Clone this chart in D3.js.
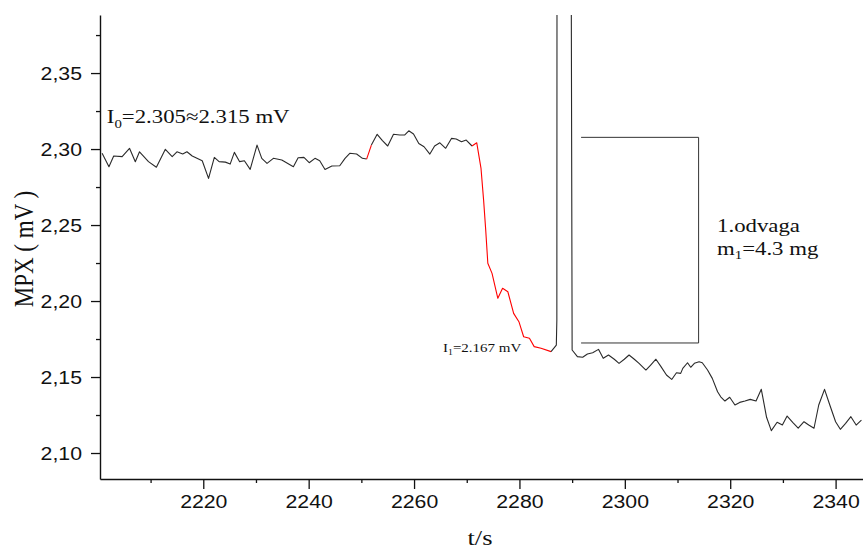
<!DOCTYPE html>
<html><head><meta charset="utf-8">
<script src="https://cdn.jsdelivr.net/npm/d3@7"></script>
<style>body{margin:0;background:#fff}</style>
</head><body><svg id="c" width="863" height="552"></svg>
<script>
// ---- data ----
const times = [
 2200.8,2202.1,2203.0,2204.6,2206.0,2207.1,2207.9,2209.6,2211.1,2212.8,
 2214.1,2215.0,2216.1,2216.9,2217.9,2219.8,2221.0,2222.1,2223.0,2224.2,
 2225.1,2225.9,2226.9,2227.8,2228.9,2230.2,2231.1,2232.1,2233.3,2234.9,
 2237.1,2238.0,2239.1,2240.1,2241.2,2242.1,2243.1,2244.4,2245.9,2246.9,
 2247.8,2249.1,2250.2,2251.0,2251.9,2253.0,2254.0,2255.0,2256.1,2257.3,
 2258.2,2259.0,2259.9,2260.9,2261.9,2263.0,2263.9,2264.9,2266.0,2267.1,
 2268.0,2269.0,2269.9,2271.0,2271.9,2272.7,2273.2,2273.6,2274.0,2274.8,
 2275.9,2276.8,2277.8,2278.9,2279.9,2280.8,2281.9,2282.8,2284.1,2286.0,
 2287.0,2287.1,2287.15,2289.7,2290.0,2291.0,2292.0,2292.9,2293.9,2295.0,
 2295.9,2296.9,2298.0,2298.9,2299.9,2300.8,2301.8,2302.7,2304.0,2304.9,
 2305.9,2306.8,2307.9,2308.9,2309.8,2310.6,2311.0,2311.9,2312.5,2313.2,
 2314.1,2314.7,2315.7,2316.6,2317.6,2318.2,2319.0,2319.9,2320.9,2321.8,
 2322.8,2323.8,2324.9,2325.9,2326.9,2327.8,2328.9,2329.9,2330.8,2331.9,
 2332.9,2334.0,2334.9,2335.9,2336.8,2337.9,2338.9,2340.0,2340.9,2341.9,
 2342.9,2343.9,2344.9
];
const values = [
 2.2972,2.2884,2.2954,2.2950,2.3005,2.2917,2.2982,2.2917,2.2880,2.2998,
 2.2950,2.2982,2.2967,2.2982,2.2954,2.2923,2.2807,2.2945,2.2917,2.2914,
 2.2901,2.2978,2.2917,2.2923,2.2866,2.3026,2.2939,2.2906,2.2939,2.2928,
 2.2884,2.2943,2.2945,2.2910,2.2939,2.2923,2.2866,2.2888,2.2890,2.2939,
 2.2972,2.2967,2.2939,2.2934,2.3026,2.3097,2.3055,2.3020,2.3097,2.3092,
 2.3092,2.3120,2.3099,2.3037,2.3015,2.2967,2.3020,2.3041,2.3005,2.3070,
 2.3066,2.3048,2.3059,2.3020,2.3041,2.2875,2.2664,2.2467,2.2248,2.2182,
 2.2018,2.2084,2.2061,2.1919,2.1864,2.1765,2.1755,2.1700,2.1689,2.1667,
 2.1710,2.1875,2.6000,2.6000,2.1678,2.1634,2.1630,2.1651,2.1660,2.1682,
 2.1623,2.1645,2.1617,2.1590,2.1617,2.1645,2.1617,2.1590,2.1546,2.1579,
 2.1617,2.1572,2.1513,2.1484,2.1528,2.1524,2.1557,2.1594,2.1564,2.1590,
 2.1600,2.1594,2.1546,2.1491,2.1403,2.1370,2.1342,2.1367,2.1316,2.1333,
 2.1342,2.1353,2.1342,2.1419,2.1235,2.1147,2.1202,2.1184,2.1243,2.1200,
 2.1163,2.1206,2.1184,2.1163,2.1316,2.1419,2.1316,2.1206,2.1156,2.1195,
 2.1239,2.1184,2.1217
];
const redRanges = [[2251.0, 2251.9], [2271.0, 2286.0]];
const xMajorTicks = [2220, 2240, 2260, 2280, 2300, 2320, 2340];
const xMinorTicks = [2210, 2230, 2250, 2270, 2290, 2310, 2330];
const yMajorTicks = [2.10, 2.15, 2.20, 2.25, 2.30, 2.35];
const yMinorTicks = [2.125, 2.175, 2.225, 2.275, 2.325, 2.375];
const xDomain = [2200.4, 2345.2];
const yDomain = [2.0829, 2.3882];
const bracketT = [2291.7, 2314.0];
const bracketV = [2.3077, 2.1724];
const xTitle = "t/s";
const yTitle = "MPX ( mV )";

// ---- layout ----
const W = 863, H = 552;
const m = {left: 100, top: 15, right: 0, bottom: 73};
const svg = d3.select("#c");
svg.append("rect").attr("width", W).attr("height", H).attr("fill", "#fff");

const x = d3.scaleLinear().domain(xDomain).range([m.left, W - m.right]);
const y = d3.scaleLinear().domain(yDomain).range([H - m.bottom, m.top]);

const SANS = "'Liberation Sans', Arial, sans-serif";
const SERIF = "'Liberation Serif', 'Times New Roman', serif";
const sxSans = 1.12, sxSerif = 1.2;

svg.append("clipPath").attr("id", "clip").append("rect")
  .attr("x", m.left).attr("y", m.top)
  .attr("width", W - m.right - m.left).attr("height", H - m.bottom - m.top);

const pts = times.map((t, i) => ({t, v: values[i]}));
const isRed = p => redRanges.some(r => p.t >= r[0] - 1e-6 && p.t <= r[1] + 1e-6);
// split into runs of same colour (a segment is red if both its ends are red)
const runs = [];
for (let i = 0; i < pts.length - 1; i++) {
  const red = isRed(pts[i]) && isRed(pts[i + 1]);
  const last = runs[runs.length - 1];
  if (last && last.red === red) last.pts.push(pts[i + 1]);
  else runs.push({red, pts: [pts[i], pts[i + 1]]});
}
const line = d3.line().x(d => x(d.t)).y(d => y(d.v));

const plot = svg.append("g").attr("clip-path", "url(#clip)");
plot.selectAll("path.run").data(runs).join("path").attr("class", "run")
  .attr("d", d => line(d.pts))
  .attr("fill", "none")
  .attr("stroke", d => d.red ? "#ff0000" : "#2a2a2a")
  .attr("stroke-width", 1.1).attr("stroke-linejoin", "round");

// bracket annotation
svg.append("path")
  .attr("d", `M${x(bracketT[0])},${y(bracketV[0])}H${x(bracketT[1])}V${y(bracketV[1])}H${x(bracketT[0])}`)
  .attr("fill", "none").attr("stroke", "#333").attr("stroke-width", 1);

// ---- axes ----
const yFmt = d => d3.format(".2f")(d).replace(".", ",");
function stretchTexts(g, sx) {
  g.selectAll("text").each(function() {
    const t = d3.select(this);
    const tx = +t.attr("x") || 0;
    const ty = +t.attr("y") || 0;
    t.attr("x", 0).attr("y", 0).attr("transform", `translate(${tx},${ty}) scale(${sx},1)`);
  });
}

const gy = svg.append("g").attr("transform", `translate(${m.left},0)`)
  .call(d3.axisLeft(y).tickValues(yMajorTicks).tickFormat(yFmt).tickSize(9).tickPadding(9).tickSizeOuter(0));
svg.append("g").attr("transform", `translate(${m.left},0)`)
  .call(d3.axisLeft(y).tickValues(yMinorTicks).tickFormat("").tickSize(4).tickSizeOuter(0))
  .select(".domain").remove();

const gx = svg.append("g").attr("transform", `translate(0,${H - m.bottom})`)
  .call(d3.axisBottom(x).tickValues(xMajorTicks).tickFormat(d3.format("d")).tickSize(10).tickPadding(6).tickSizeOuter(0));
svg.append("g").attr("transform", `translate(0,${H - m.bottom})`)
  .call(d3.axisBottom(x).tickValues(xMinorTicks).tickFormat("").tickSize(4).tickSizeOuter(0))
  .select(".domain").remove();

[gx, gy].forEach(g => {
  g.selectAll("text").attr("font-family", SANS).attr("font-size", 19).attr("fill", "#111");
  stretchTexts(g, sxSans);
});
svg.selectAll(".domain").attr("stroke", "#111").attr("stroke-width", 1.4);
svg.selectAll(".tick line").attr("stroke", "#111").attr("stroke-width", 1.3);

// axis titles
svg.append("text").attr("transform", `translate(480,545) scale(${sxSerif},1)`)
  .attr("text-anchor", "middle").attr("font-family", SERIF).attr("font-size", 22)
  .attr("fill", "#111").text(xTitle);
svg.append("text").attr("transform", `translate(33,249) scale(${sxSerif},1) rotate(-90)`)
  .attr("text-anchor", "middle").attr("font-family", SERIF).attr("font-size", 23)
  .attr("fill", "#111").text(yTitle);

// text annotations
function subText(tx, ty, size, parts) {
  const t = svg.append("text").attr("transform", `translate(${tx},${ty}) scale(${sxSerif},1)`)
    .attr("font-family", SERIF).attr("font-size", size).attr("fill", "#111");
  parts.forEach(p => {
    const s = t.append("tspan").text(p.s);
    if (p.sub) s.attr("font-size", size * 0.65).attr("dy", size * 0.22);
    else if (p.after) s.attr("dy", -size * 0.22);
  });
}
subText(x(2201.7), y(2.3169), 19, [{s: "I"}, {s: "0", sub: true}, {s: "=2.305≈2.315 mV", after: true}]);
subText(x(2265.5), y(2.1663), 12.5, [{s: "I"}, {s: "1", sub: true}, {s: "=2.167 mV", after: true}]);
subText(x(2317.5), y(2.2452), 19, [{s: "1.odvaga"}]);
subText(x(2317.5), y(2.2301), 19, [{s: "m"}, {s: "1", sub: true}, {s: "=4.3 mg", after: true}]);
</script>
</body></html>
